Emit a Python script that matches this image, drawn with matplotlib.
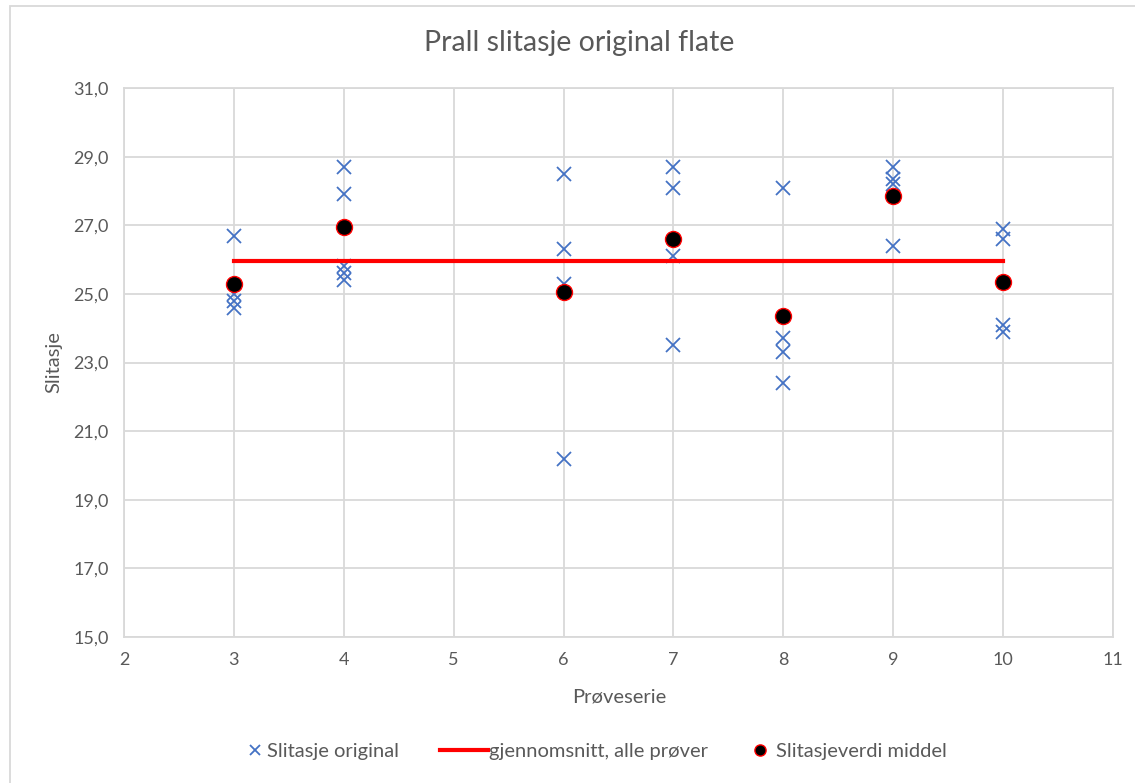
import matplotlib
matplotlib.use("Agg")
import matplotlib.pyplot as plt
from matplotlib.patches import Rectangle

plt.rcParams['font.family'] = ['Lato', 'DejaVu Sans']

# Individual measurements per test series
series_x = [3, 3, 3, 3,
            4, 4, 4, 4, 4,
            6, 6, 6, 6,
            7, 7, 7, 7,
            8, 8, 8, 8,
            9, 9, 9, 9,
            10, 10, 10, 10]
slitasje_original = [26.7, 25.0, 24.8, 24.6,
                     28.7, 27.9, 25.8, 25.6, 25.4,
                     28.5, 26.3, 25.3, 20.2,
                     28.7, 28.1, 26.1, 23.5,
                     28.1, 23.7, 23.3, 22.4,
                     28.7, 28.35, 28.2, 26.4,
                     26.9, 26.6, 24.1, 23.9]

# Mean per test series
mean_x = [3, 4, 6, 7, 8, 9, 10]
middel = [25.3, 26.95, 25.05, 26.6, 24.35, 27.85, 25.35]

# Overall average line
avg_x = [3, 10]
avg_value = 25.95

labels = ['Slitasje original', 'gjennomsnitt, alle prøver', 'Slitasjeverdi middel']

W, H = 1135, 783
fig = plt.figure(figsize=(W / 100, H / 100), dpi=100)
fig.patches.append(Rectangle((10 / W, -0.05), 1.2, 1 - 6 / H + 0.05,
                             transform=fig.transFigure, fill=False,
                             edgecolor='#D9D9D9', lw=1.3))

ax = fig.add_axes([124 / W, 1 - 637 / H, (1113 - 124) / W, (637 - 88) / H])

gray = '#595959'
blue = '#4472C4'
h1, = ax.plot(series_x, slitasje_original, linestyle='none', marker='x',
              markersize=10, markeredgewidth=1.3, color=blue, zorder=3)
h2, = ax.plot(avg_x, [avg_value] * len(avg_x), color='#FF0000', lw=3, zorder=4)
h3, = ax.plot(mean_x, middel, linestyle='none', marker='o', markersize=11.5,
              markerfacecolor='black', markeredgecolor='#FF0000',
              markeredgewidth=1.0, zorder=5)

ax.set_xlim(2, 11)
ax.set_ylim(15, 31)
ax.set_xticks(range(2, 12))
ax.set_yticks([15, 17, 19, 21, 23, 25, 27, 29, 31])
ax.set_yticklabels([f"{v:.1f}".replace('.', ',') for v in ax.get_yticks()])
ax.grid(True, color='#D9D9D9', lw=1.3)
ax.set_axisbelow(True)
for s in ax.spines.values():
    s.set_color('#D9D9D9')
    s.set_linewidth(1.3)
ax.tick_params(length=0, colors=gray, labelsize=13)
ax.tick_params(axis='y', pad=11)
ax.tick_params(axis='x', pad=11)

fig.text(619 / W, 1 - 697 / H, 'Prøveserie', ha='center', va='center',
         fontsize=14.5, color=gray)
fig.text(54 / W, 1 - 362 / H, 'Slitasje', ha='center', va='center',
         rotation=90, fontsize=14.5, color=gray)
fig.text(579 / W, 1 - 43 / H, 'Prall slitasje original flate', ha='center',
         va='center', fontsize=20.5, color=gray)

# Legend entries placed individually (Excel-style spacing)
leg_fs = 14.5
legend_specs = [
    (h1, labels[0], 245, 1.0, 0.1, 0.65),
    (h2, labels[1], 440, 2.4, 0.05, 1.0),
    (h3, labels[2], 750, 1.0, 0.3, 0.7),
]
for handle, lab, xleft, hl, htp, ms in legend_specs:
    fig.legend([handle], [lab], loc='center left',
               bbox_to_anchor=(xleft / W, 1 - 751 / H),
               frameon=False, fontsize=leg_fs, labelcolor=gray,
               handlelength=hl, handletextpad=htp, borderpad=0,
               borderaxespad=0, markerscale=ms)

fig.savefig('out.png', dpi=100)
